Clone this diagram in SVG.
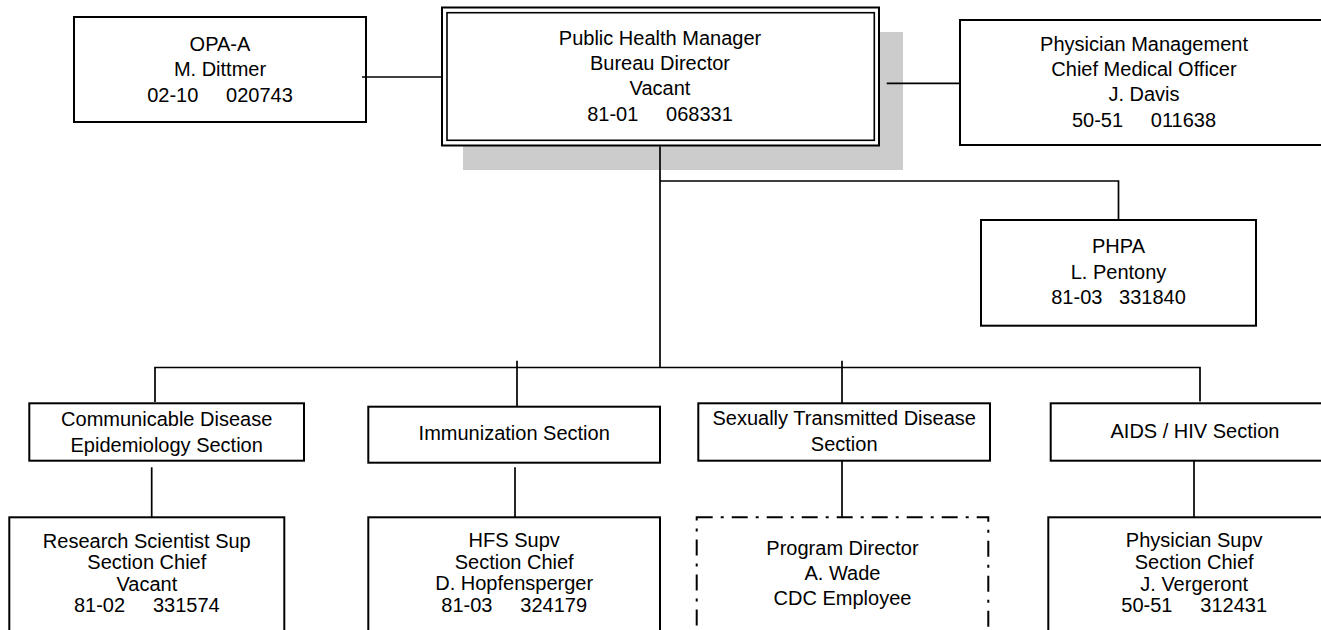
<svg xmlns="http://www.w3.org/2000/svg" width="1321" height="630" viewBox="0 0 1321 630">
<style>
  .box { fill: #ffffff; stroke: #000000; stroke-width: 2; }
  .dash { fill: #ffffff; stroke: #000000; stroke-width: 2; stroke-dasharray: 16 8 3 8; }
  .shadow { fill: #cccccc; stroke: none; }
  .ln { fill: none; stroke: #000000; stroke-width: 1.7; }
  text { font-family: "Liberation Sans", Arial, sans-serif; font-size: 20px; fill: #000000; text-anchor: middle; }
</style>
<rect width="1321" height="630" fill="#ffffff"/>
<g id="opa">
  <rect class="box" x="74" y="17" width="292" height="105"/>
  <text x="220" y="50.5">OPA-A</text>
  <text x="220" y="76">M. Dittmer</text>
  <text x="220" y="101.5" xml:space="preserve">02-10     020743</text>
</g>
<g id="director">
  <rect class="shadow" x="463" y="32" width="440" height="138"/>
  <rect class="box" x="442" y="7.5" width="437" height="138"/>
  <rect class="box" x="447" y="12.7" width="427.3" height="127.6" style="stroke-width:1.6"/>
  <text x="660" y="45">Public Health Manager</text>
  <text x="660" y="70">Bureau Director</text>
  <text x="660" y="95">Vacant</text>
  <text x="660" y="120.5" xml:space="preserve">81-01     068331</text>
</g>
<g id="cmo">
  <rect class="box" x="960" y="20" width="368" height="125"/>
  <text x="1144" y="50.5">Physician Management</text>
  <text x="1144" y="75.8">Chief Medical Officer</text>
  <text x="1144" y="101.2">J. Davis</text>
  <text x="1144" y="126.5" xml:space="preserve">50-51     011638</text>
</g>
<g id="phpa">
  <rect class="box" x="981" y="220" width="275" height="105.7"/>
  <text x="1118.5" y="252.7">PHPA</text>
  <text x="1118.5" y="279.3">L. Pentony</text>
  <text x="1118.5" y="304.3" xml:space="preserve">81-03   331840</text>
</g>
<g id="cde">
  <rect class="box" x="29.3" y="403.3" width="274.7" height="57.4"/>
  <text x="166.7" y="426">Communicable Disease</text>
  <text x="166.7" y="451.7">Epidemiology Section</text>
</g>
<g id="imm">
  <rect class="box" x="368.3" y="406.7" width="291.7" height="56"/>
  <text x="514.2" y="440">Immunization Section</text>
</g>
<g id="std">
  <rect class="box" x="698.3" y="403.3" width="291.7" height="57.4"/>
  <text x="844.2" y="425">Sexually Transmitted Disease</text>
  <text x="844.2" y="450.7">Section</text>
</g>
<g id="aids">
  <rect class="box" x="1050.7" y="403.3" width="290" height="57.4"/>
  <text x="1195" y="438.3">AIDS / HIV Section</text>
</g>
<g id="research">
  <rect class="box" x="9.3" y="517.3" width="275" height="130"/>
  <text x="146.8" y="547.7">Research Scientist Sup</text>
  <text x="146.8" y="569.3">Section Chief</text>
  <text x="146.8" y="590.7">Vacant</text>
  <text x="146.8" y="611.7" xml:space="preserve">81-02     331574</text>
</g>
<g id="hfs">
  <rect class="box" x="368.3" y="517.3" width="291.7" height="130"/>
  <text x="514.2" y="546.7">HFS Supv</text>
  <text x="514.2" y="569.3">Section Chief</text>
  <text x="514.2" y="590.3">D. Hopfensperger</text>
  <text x="514.2" y="611.7" xml:space="preserve">81-03     324179</text>
</g>
<g id="program">
  <rect class="dash" x="696.7" y="517.3" width="291.6" height="130"/>
  <text x="842.5" y="555">Program Director</text>
  <text x="842.5" y="580">A. Wade</text>
  <text x="842.5" y="605">CDC Employee</text>
</g>
<g id="physsupv">
  <rect class="box" x="1048.3" y="517.3" width="292" height="130"/>
  <text x="1194.2" y="546.7">Physician Supv</text>
  <text x="1194.2" y="569.3">Section Chief</text>
  <text x="1194.2" y="590.7">J. Vergeront</text>
  <text x="1194.2" y="611.7" xml:space="preserve">50-51     312431</text>
</g>
<g id="connectors">
  <path class="ln" d="M362 77 H442"/>
  <path class="ln" d="M886.7 83.3 H960"/>
  <path class="ln" d="M660 146.5 V367.5"/>
  <path class="ln" d="M660 181 H1118.5 V220"/>
  <path class="ln" d="M155 402 V367.5 H1200 V401.5"/>
  <path class="ln" d="M517 360.7 V407"/>
  <path class="ln" d="M842 360.7 V403.3"/>
  <path class="ln" d="M151.7 467.3 V517.3"/>
  <path class="ln" d="M515 467.3 V518"/>
  <path class="ln" d="M842 460.7 V517.3"/>
  <path class="ln" d="M1194 460.7 V517.3"/>
</g>
</svg>
